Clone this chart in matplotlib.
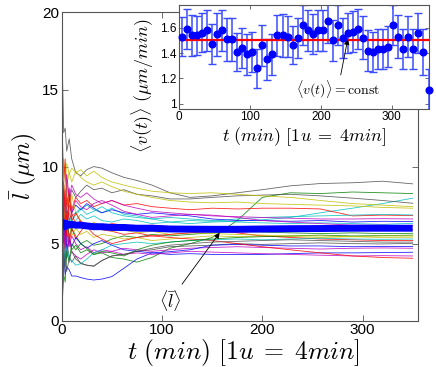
import numpy as np
import matplotlib
matplotlib.use('Agg')
import matplotlib.pyplot as plt
from matplotlib.ticker import FormatStrFormatter

plt.rcParams['font.family'] = ['Liberation Sans', 'DejaVu Sans']
plt.rcParams['mathtext.fontset'] = 'cm'

# sample times of the single-cell trajectories (min)
t_l = [0.7, 2, 3.5, 5, 7.5, 10, 14, 19, 25, 32, 40, 50, 62, 75, 90, 108, 128,
       150, 175, 200, 228, 258, 290, 320, 350]

# individual trajectories l(t) in um, with their MATLAB-ish colours
traj = [
    ('k', [16.3, 12.2, 12.5, 11.0, 11.8, 10.5, 9.6, 9.4, 9.8, 10.0, 9.9, 9.6, 9.3, 9.1, 8.8, 8.3, 8.0, 8.1, 8.3, 8.5, 8.75, 8.9, 8.95, 9.05, 8.88]),
    ('g', [1.5, 4.0, 6.5, 5.0, 5.5, 4.6, 4.9, 4.4, 4.6, 4.3, 4.4, 4.1, 4.0, 3.8, 4.1, 4.7, 5.0, 5.4, 6.5, 8.0, 8.3, 8.25, 8.35, 8.3, 8.25]),
    ('c', [9.8, 7.0, 8.5, 6.2, 7.0, 6.4, 6.9, 7.2, 7.5, 7.2, 7.0, 7.3, 6.9, 6.8, 6.6, 6.4, 6.3, 6.4, 6.45, 6.55, 6.7, 7.0, 7.3, 7.6, 7.95]),
    ('k', [5.0, 8.0, 6.5, 9.0, 7.8, 8.5, 8.0, 8.4, 8.8, 8.5, 8.6, 8.3, 8.5, 8.2, 8.1, 7.9, 7.9, 8.0, 8.1, 8.15, 8.2, 8.1, 7.95, 7.8, 7.62]),
    ('y', [8.0, 10.5, 9.0, 10.2, 9.5, 9.9, 9.6, 9.8, 9.4, 9.7, 9.3, 9.0, 8.8, 8.6, 8.4, 8.3, 8.25, 8.3, 8.2, 8.1, 8.0, 7.8, 7.6, 7.5, 7.4]),
    ('y', [6.0, 9.0, 7.5, 8.8, 9.6, 9.0, 9.7, 9.3, 9.0, 8.8, 9.0, 8.7, 8.4, 8.2, 8.0, 7.8, 7.7, 7.65, 7.7, 7.6, 7.55, 7.5, 7.45, 7.35, 7.3]),
    ('r', [12.0, 9.0, 10.5, 7.5, 8.6, 7.2, 8.0, 7.6, 7.8, 7.4, 7.6, 7.8, 7.5, 7.6, 7.4, 7.3, 7.2, 7.3, 7.25, 7.3, 7.3, 7.25, 6.8, 6.85, 6.82]),
    ('c', [3.0, 5.5, 7.0, 4.5, 6.5, 5.8, 6.5, 6.9, 6.6, 6.8, 6.5, 6.4, 6.6, 6.5, 6.3, 6.4, 6.5, 6.45, 6.6, 6.7, 6.75, 6.8, 6.85, 6.9, 6.86]),
    ('b', [7.0, 5.0, 8.0, 6.8, 7.5, 7.0, 7.5, 7.2, 7.6, 7.3, 7.0, 7.2, 7.0, 6.9, 7.0, 6.9, 6.8, 6.6, 6.5, 6.5, 6.45, 6.5, 6.4, 6.45, 6.43]),
    ('c', [5.5, 7.5, 5.0, 7.0, 6.0, 6.8, 7.0, 7.3, 6.9, 7.1, 7.4, 7.0, 6.8, 6.7, 6.6, 6.7, 6.6, 6.5, 6.4, 6.35, 6.3, 6.35, 6.3, 6.25, 6.32]),
    ('m', [9.0, 6.0, 7.5, 5.5, 8.0, 7.0, 7.8, 7.4, 7.2, 7.6, 7.8, 7.5, 7.1, 6.9, 6.7, 6.8, 6.9, 6.85, 6.7, 6.5, 6.4, 6.3, 6.2, 6.2, 6.15]),
    ('g', [4.0, 6.5, 5.0, 6.5, 5.5, 6.0, 5.5, 5.0, 5.2, 4.9, 5.0, 5.3, 5.5, 5.4, 5.6, 5.5, 5.6, 5.7, 5.8, 5.75, 5.7, 5.65, 5.7, 5.65, 5.67]),
    ('y', [10.0, 7.0, 8.0, 6.0, 6.5, 5.5, 6.0, 5.6, 5.8, 5.4, 5.6, 5.5, 5.3, 5.4, 5.2, 5.3, 5.4, 5.5, 5.45, 5.5, 5.45, 5.4, 5.45, 5.4, 5.42]),
    ('r', [6.5, 4.0, 5.5, 7.0, 5.0, 6.0, 5.3, 5.8, 6.3, 5.9, 6.1, 6.3, 6.2, 6.1, 6.2, 6.1, 6.0, 5.9, 5.7, 5.5, 5.4, 5.3, 5.25, 5.2, 5.2]),
    ('k', [2.9, 4.5, 3.5, 5.0, 4.2, 3.8, 4.2, 3.7, 3.6, 3.55, 3.9, 4.2, 4.3, 4.5, 4.6, 4.8, 4.85, 4.9, 5.0, 4.95, 5.0, 5.05, 5.0, 4.98, 5.02]),
    ('b', [8.5, 5.5, 6.5, 4.5, 5.2, 4.8, 5.4, 5.0, 4.7, 5.0, 5.2, 4.9, 4.6, 4.5, 4.4, 4.3, 4.35, 4.3, 4.3, 4.3, 4.35, 4.4, 4.4, 4.42, 4.44]),
    ('m', [3.5, 6.0, 4.5, 5.8, 4.8, 5.5, 5.0, 4.6, 4.8, 4.4, 4.6, 4.5, 4.7, 4.6, 4.5, 4.6, 4.7, 4.75, 4.8, 4.75, 4.7, 4.65, 4.7, 4.72, 4.7]),
    ('b', [3.5, 4.5, 3.0, 3.5, 3.3, 2.9, 2.9, 2.8, 2.7, 2.64, 2.7, 2.86, 3.4, 4.0, 4.4, 4.48, 4.6, 4.9, 4.95, 4.9, 4.85, 4.85, 4.8, 4.82, 4.81]),
    ('m', [7.5, 5.0, 6.0, 4.0, 5.5, 4.5, 4.2, 4.0, 4.3, 4.6, 4.4, 4.5, 4.3, 4.4, 4.3, 4.4, 4.5, 4.45, 4.4, 4.35, 4.3, 4.25, 4.2, 4.22, 4.2]),
    ('r', [5.0, 7.5, 6.0, 8.0, 6.5, 7.0, 6.2, 6.5, 6.0, 6.3, 5.9, 5.8, 5.6, 5.7, 5.5, 5.4, 5.3, 5.2, 5.0, 4.8, 4.6, 4.4, 4.2, 4.1, 4.05]),
    ('c', [2.0, 5.0, 3.5, 4.8, 4.0, 3.9, 3.6, 3.7, 4.0, 4.4, 4.6, 4.9, 5.0, 5.1, 5.0, 5.1, 5.2, 5.25, 5.3, 5.25, 5.3, 5.35, 5.3, 5.28, 5.3]),
    ('g', [1.3, 3.0, 2.5, 4.5, 3.8, 5.0, 4.6, 5.0, 4.7, 4.3, 4.5, 4.4, 4.2, 4.6, 4.9, 5.1, 5.2, 5.3, 5.4, 5.45, 5.5, 5.55, 5.5, 5.52, 5.55]),
    ('y', [11.0, 8.5, 6.5, 9.5, 7.0, 8.2, 7.0, 6.5, 6.0, 6.4, 6.1, 5.8, 5.9, 5.7, 5.8, 5.6, 5.7, 5.65, 5.6, 5.55, 5.5, 5.5, 5.45, 5.5, 5.5]),
    ('m', [6.0, 8.5, 7.0, 9.5, 8.0, 8.8, 8.2, 8.0, 8.3, 7.9, 7.6, 7.8, 7.5, 7.3, 7.1, 7.0, 6.9, 6.8, 6.75, 6.7, 6.65, 6.6, 6.6, 6.62, 6.6]),
    ('r', [4.5, 9.0, 7.0, 5.5, 8.3, 6.5, 7.0, 6.4, 6.1, 5.6, 5.3, 5.0, 5.2, 5.4, 5.5, 5.6, 5.7, 5.8, 5.75, 5.8, 5.85, 5.9, 5.85, 5.9, 5.9]),
    ('k', [5.5, 3.0, 4.5, 3.2, 4.0, 4.5, 4.0, 3.74, 3.6, 3.53, 3.9, 4.2, 4.3, 4.5, 4.7, 4.9, 5.0, 5.1, 5.15, 5.2, 5.25, 5.2, 5.15, 5.1, 5.1]),
]

# population mean <l>
l_mean = [6.2, 6.35, 6.1, 6.3, 6.2, 6.25, 6.2, 6.2, 6.15, 6.1, 6.1, 6.05, 6.05,
          6.0, 6.0, 5.95, 5.94, 5.93, 5.93, 5.95, 5.97, 5.98, 6.0, 6.0, 6.0]

# inset: mean growth speed with error bars
t_v = 4 + 7.1 * np.arange(50)
v_mean = [1.53, 1.59, 1.54, 1.54, 1.56, 1.58, 1.47, 1.55, 1.58, 1.51,
          1.51, 1.41, 1.44, 1.39, 1.41, 1.28, 1.46, 1.35, 1.39, 1.54,
          1.54, 1.53, 1.46, 1.52, 1.62, 1.58, 1.55, 1.58, 1.58, 1.65,
          1.50, 1.62, 1.52, 1.56, 1.57, 1.59, 1.52, 1.42, 1.41, 1.43,
          1.43, 1.45, 1.62, 1.53, 1.43, 1.53, 1.43, 1.56, 1.41, 1.11]
v_err = [0.155, 0.16, 0.16, 0.155, 0.155, 0.16, 0.16, 0.17, 0.16, 0.17,
         0.17, 0.15, 0.16, 0.16, 0.16, 0.155, 0.16, 0.16, 0.16, 0.16,
         0.17, 0.16, 0.15, 0.16, 0.16, 0.16, 0.16, 0.16, 0.16, 0.17,
         0.16, 0.16, 0.16, 0.16, 0.16, 0.16, 0.17, 0.16, 0.16, 0.16,
         0.16, 0.16, 0.16, 0.17, 0.16, 0.16, 0.16, 0.16, 0.18, 0.16]
v_const = 1.5

mcol = {'b': (0, 0, 1), 'g': (0, 0.5, 0), 'r': (1, 0, 0), 'c': (0, 0.75, 0.75),
        'm': (0.75, 0, 0.75), 'y': (0.75, 0.75, 0), 'k': (0.3, 0.3, 0.3)}
spine_c = '#555555'
tlabel = r'$t\ (min)\ [1u\;{=}\;4min]$'

fig = plt.figure(figsize=(4.36, 3.67), dpi=100)
ax = fig.add_axes([0.1415, 0.1262, 0.8165, 0.8398])

for c, vals in traj:
    ax.plot(t_l, vals, color=mcol[c], lw=0.6, alpha=0.85)
ax.plot(t_l, l_mean, color='b', lw=5, solid_capstyle='butt')

ax.set_xlim(0, 355)
ax.set_ylim(0, 20)
ax.set_xticks([0, 100, 200, 300])
ax.set_yticks([0, 5, 10, 15, 20])
ax.tick_params(direction='in', top=True, right=True, length=4, width=0.6,
               colors=spine_c, labelcolor='k', labelsize=11, pad=2)
for s in ax.spines.values():
    s.set_color(spine_c)
    s.set_linewidth(0.8)
ax.set_xlabel(tlabel, fontsize=18.5, labelpad=0)
ax.xaxis.label.set_x(0.51)
ax.set_ylabel(r'$\bar{l}\ (\mu m)$', fontsize=17, labelpad=2)

ax.annotate(r'$\langle \bar{l} \rangle$', xy=(157.5, 5.7), xytext=(108, 1.3),
            ha='center', va='center', fontsize=13,
            arrowprops=dict(arrowstyle='-|>', color='k', lw=0.6,
                            mutation_scale=8, shrinkA=1, shrinkB=0))

# inset
axi = fig.add_axes([0.4106, 0.7038, 0.574, 0.2826])
axi.errorbar(t_v, v_mean, yerr=v_err, fmt='none', ecolor='#3a4cff',
             elinewidth=1.1, capsize=2.8, capthick=1.0, zorder=2)
axi.axhline(v_const, color='r', lw=1.6, zorder=3)
axi.plot(t_v, v_mean, 'o', color='b', ms=4.8, zorder=4, clip_on=False)
axi.set_xlim(0, 353)
axi.set_ylim(0.96, 1.78)
axi.set_xticks([0, 100, 200, 300])
axi.set_yticks([1, 1.2, 1.4, 1.6])
axi.yaxis.set_major_formatter(FormatStrFormatter('%g'))
axi.tick_params(direction='in', top=True, right=True, length=3, width=0.6,
                colors=spine_c, labelcolor='k', labelsize=8.5, pad=2)
for s in axi.spines.values():
    s.set_color(spine_c)
    s.set_linewidth(0.8)
axi.set_xlabel(tlabel, fontsize=13, labelpad=1)
axi.set_ylabel(r'$\langle v(t) \rangle\ (\mu m/min)$', fontsize=13)
axi.yaxis.set_label_coords(-0.09, 0.22)
axi.annotate(r'$\langle v(t) \rangle = \mathrm{const}$', xy=(238, 1.51),
             xytext=(224, 1.11), ha='center', va='center', fontsize=10,
             arrowprops=dict(arrowstyle='-|>', color='k', lw=0.6,
                             mutation_scale=8, shrinkA=1, shrinkB=0))

fig.savefig('out.png', dpi=100)
